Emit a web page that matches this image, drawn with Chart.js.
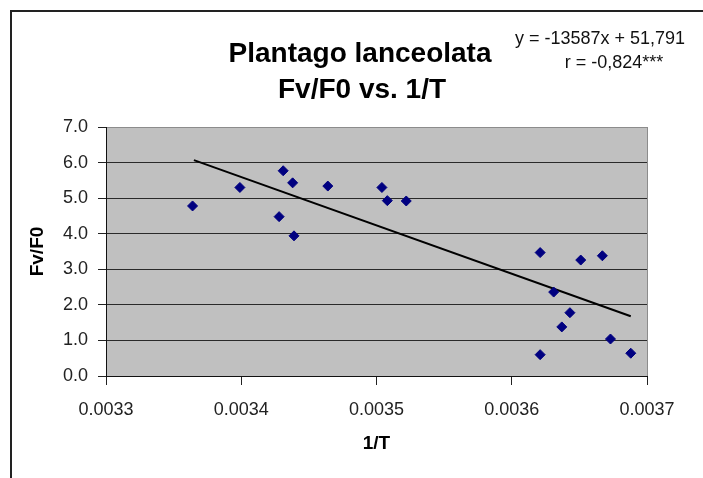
<!DOCTYPE html>
<html>
<head>
<meta charset="utf-8">
<script src="https://cdn.jsdelivr.net/npm/chart.js@4"></script>
<style>
  html, body { margin: 0; padding: 0; background: #fff; }
  #wrap { width: 703px; height: 478px; }
</style>
</head>
<body>
<div id="wrap"><canvas id="fvChart" width="703" height="478"></canvas></div>
<script>
// values
const invT = [0.003364, 0.003399, 0.003431, 0.003438, 0.003428, 0.003439, 0.003464,
              0.003504, 0.003508, 0.003522, 0.003621, 0.003651, 0.003667, 0.003631,
              0.003643, 0.003637, 0.003673, 0.003621, 0.003688];
const fvF0 = [4.78, 5.30, 5.77, 5.43, 4.48, 3.94, 5.34,
              5.30, 4.93, 4.92, 3.47, 3.26, 3.38, 2.36,
              1.78, 1.38, 1.04, 0.60, 0.64];

// trend line end points
const trendX = [0.003365, 0.003688];
const trendY = [6.07, 1.68];

const xTicks = [0.0033, 0.0034, 0.0035, 0.0036, 0.0037];
const yTicks = [0, 1, 2, 3, 4, 5, 6, 7];

const titleLines = ['Plantago lanceolata', 'Fv/F0 vs. 1/T'];
const equationLines = ['y = -13587x + 51,791', 'r = -0,824***'];

const FONT = '"Liberation Sans", Arial, sans-serif';

// gray plot area + right border
const plotBackground = {
    id: 'plotBackground',
    beforeDraw(chart) {
        const { ctx, chartArea: a } = chart;
        ctx.save();
        ctx.fillStyle = '#c0c0c0';
        ctx.fillRect(a.left, a.top, a.right - a.left, a.bottom - a.top);
        ctx.restore();
    },
    afterDraw(chart) {
        const { ctx, chartArea: a } = chart;
        ctx.save();
        ctx.strokeStyle = '#8c8c8c';
        ctx.lineWidth = 1;
        ctx.beginPath();
        ctx.moveTo(a.right + 0.5, a.top);
        ctx.lineTo(a.right + 0.5, a.bottom);
        ctx.stroke();
        ctx.restore();
    }
};

// outer frame, title and the regression text
const annotations = {
    id: 'annotations',
    afterDraw(chart) {
        const ctx = chart.ctx;
        ctx.save();
        ctx.strokeStyle = '#222';
        ctx.lineWidth = 2;
        ctx.beginPath();
        ctx.moveTo(11, 480);
        ctx.lineTo(11, 11);
        ctx.lineTo(710, 11);
        ctx.stroke();

        ctx.fillStyle = '#000';
        ctx.textAlign = 'center';
        ctx.textBaseline = 'alphabetic';
        ctx.font = 'bold 28px ' + FONT;
        ctx.fillText(titleLines[0], 360, 62);
        ctx.fillText(titleLines[1], 362, 98);

        ctx.fillStyle = '#111';
        ctx.font = '18px ' + FONT;
        ctx.fillText(equationLines[0], 600, 44);
        ctx.fillText(equationLines[1], 614, 68);
        ctx.restore();
    }
};

const ctx = document.getElementById('fvChart').getContext('2d');
const chart = new Chart(ctx, {
    type: 'scatter',
    data: {
        datasets: [{
            label: 'Fv/F0',
            data: invT.map((x, i) => ({ x: x, y: fvF0[i] })),
            pointStyle: 'rectRot',
            pointRadius: 5,
            backgroundColor: '#000080',
            borderColor: '#000080',
            borderWidth: 1,
            order: 0
        }, {
            label: 'trend',
            type: 'line',
            data: trendX.map((x, i) => ({ x: x, y: trendY[i] })),
            borderColor: '#000',
            borderWidth: 2,
            pointRadius: 0,
            fill: false,
            order: 1
        }]
    },
    options: {
        responsive: false,
        animation: false,
        layout: {
            padding: { left: 0, top: 127, right: 56, bottom: 0 }
        },
        plugins: {
            legend: { display: false },
            tooltip: { enabled: false }
        },
        scales: {
            x: {
                type: 'linear',
                min: 0.0033,
                max: 0.0037,
                afterBuildTicks: scale => { scale.ticks = xTicks.map(v => ({ value: v })); },
                afterFit: scale => { scale.height = 102; },
                grid: { drawOnChartArea: false, tickLength: 9, tickColor: '#222' },
                border: { color: '#111', width: 1 },
                ticks: {
                    padding: 14,
                    color: '#222',
                    font: { family: FONT, size: 18 },
                    maxRotation: 0,
                    callback: v => v.toFixed(4)
                },
                title: {
                    display: true,
                    text: '1/T',
                    color: '#000',
                    font: { family: FONT, size: 19, weight: 'bold' },
                    padding: { top: 0, bottom: 23 }
                }
            },
            y: {
                min: 0,
                max: 7,
                afterBuildTicks: scale => { scale.ticks = yTicks.map(v => ({ value: v })); },
                afterFit: scale => { scale.width = 106; },
                grid: {
                    color: c => (c.tick && c.tick.value === 7) ? '#8c8c8c' : '#2a2a2a',
                    lineWidth: 1,
                    tickLength: 8,
                    tickColor: '#222'
                },
                border: { color: '#111', width: 1 },
                ticks: {
                    padding: 10,
                    color: '#222',
                    font: { family: FONT, size: 18 },
                    callback: v => v.toFixed(1)
                },
                title: {
                    display: true,
                    text: 'Fv/F0',
                    color: '#000',
                    font: { family: FONT, size: 19, weight: 'bold' },
                    padding: { top: 26, bottom: 0 }
                }
            }
        }
    },
    plugins: [plotBackground, annotations]
});
</script>
</body>
</html>
